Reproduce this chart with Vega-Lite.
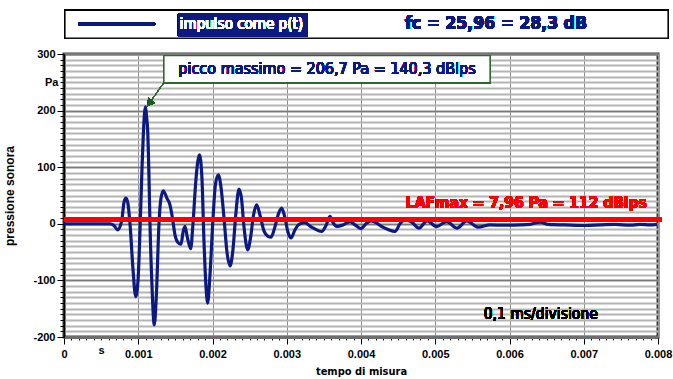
{
  "$schema": "https://vega.github.io/schema/vega-lite/v6.json",
  "autosize": "none",
  "width": 594,
  "height": 283,
  "padding": {"left": 64, "top": 54, "right": 15, "bottom": 42},
  "background": "white",
  "config": {
    "view": {"stroke": "#3a3a3a", "strokeWidth": 3},
    "font": "Liberation Sans"
  },
  "resolve": {"axis": {"x": "independent", "y": "independent"}},
  "data": {
    "values": [
      {"t":0,"p":0},{"t":0.000485,"p":0},{"t":0.00062,"p":0},{"t":0.000673,"p":-3},{"t":0.000723,"p":-10.6},{"t":0.000777,"p":5},{"t":0.000808,"p":38},{"t":0.000835,"p":45.5},{"t":0.000862,"p":35},{"t":0.000889,"p":0},{"t":0.000929,"p":-80},{"t":0.000966,"p":-128.7},{"t":0.000997,"p":-100},{"t":0.001024,"p":-10},{"t":0.001051,"p":100},{"t":0.001068,"p":157},{"t":0.001084,"p":195},{"t":0.001098,"p":206.7},{"t":0.001111,"p":190},{"t":0.001127,"p":165},{"t":0.001145,"p":80},{"t":0.001158,"p":0},{"t":0.001185,"p":-110},{"t":0.001216,"p":-178.8},{"t":0.001246,"p":-120},{"t":0.001279,"p":0},{"t":0.001306,"p":45},{"t":0.001337,"p":58.4},{"t":0.001387,"p":45},{"t":0.001427,"p":33.6},{"t":0.001461,"p":10},{"t":0.001495,"p":-19.5},{"t":0.001535,"p":-33},{"t":0.001576,"p":-36},{"t":0.001603,"p":-15},{"t":0.001629,"p":-4.7},{"t":0.001663,"p":-25},{"t":0.001706,"p":-44},{"t":0.001737,"p":0},{"t":0.001778,"p":80},{"t":0.001825,"p":122},{"t":0.001858,"p":80},{"t":0.001885,"p":-30},{"t":0.001912,"p":-110},{"t":0.001935,"p":-140},{"t":0.001966,"p":-90},{"t":0.002007,"p":10},{"t":0.00204,"p":70},{"t":0.002078,"p":86.7},{"t":0.002114,"p":65},{"t":0.002155,"p":10},{"t":0.002195,"p":-50},{"t":0.002236,"p":-74.3},{"t":0.002276,"p":-45},{"t":0.002316,"p":20},{"t":0.002357,"p":61.4},{"t":0.00239,"p":45},{"t":0.002424,"p":-5},{"t":0.002474,"p":-46},{"t":0.002512,"p":-25},{"t":0.002552,"p":15},{"t":0.002595,"p":33.6},{"t":0.00264,"p":15},{"t":0.002694,"p":-13},{"t":0.002747,"p":-22},{"t":0.002788,"p":-23.6},{"t":0.002842,"p":-5},{"t":0.002889,"p":18},{"t":0.002932,"p":27.7},{"t":0.002977,"p":10},{"t":0.003017,"p":-15},{"t":0.003057,"p":-25},{"t":0.003111,"p":-10.6},{"t":0.003165,"p":-1},{"t":0.003246,"p":2},{"t":0.003313,"p":-4},{"t":0.003367,"p":-8},{"t":0.003468,"p":-13.6},{"t":0.003529,"p":-3},{"t":0.003582,"p":13},{"t":0.003623,"p":2},{"t":0.003677,"p":-4.7},{"t":0.003758,"p":-2},{"t":0.003852,"p":4},{"t":0.003919,"p":-2},{"t":0.004,"p":-8.5},{"t":0.004067,"p":0},{"t":0.004135,"p":5},{"t":0.004202,"p":2},{"t":0.004269,"p":-4},{"t":0.004364,"p":-10},{"t":0.004458,"p":-13.6},{"t":0.004525,"p":0},{"t":0.004592,"p":7},{"t":0.004673,"p":4},{"t":0.004781,"p":-7.7},{"t":0.004889,"p":5},{"t":0.00502,"p":-5},{"t":0.005154,"p":4},{"t":0.005293,"p":-7.7},{"t":0.005423,"p":5},{"t":0.005576,"p":-6},{"t":0.005737,"p":-2},{"t":0.005939,"p":-2.5},{"t":0.006141,"p":-2},{"t":0.006276,"p":-1},{"t":0.006411,"p":3},{"t":0.006519,"p":-1},{"t":0.006747,"p":-2},{"t":0.007017,"p":-3},{"t":0.007219,"p":-2},{"t":0.007421,"p":-1},{"t":0.007623,"p":-2.5},{"t":0.007758,"p":-1},{"t":0.007892,"p":-2},{"t":0.007987,"p":-1}
    ]
  },
  "layer": [
    {
      "mark": {"type": "line", "color": "#0c1a80", "strokeWidth": 3.2, "interpolate": "monotone"},
      "encoding": {
        "x": {
          "field": "t", "type": "quantitative",
          "scale": {"domain": [0, 0.008], "nice": false, "zero": false},
          "axis": {
            "orient": "bottom",
            "title": "tempo di misura",
            "titleFont": "Liberation Sans Narrow, DejaVu Sans Condensed, Liberation Sans",
            "titleFontSize": 11, "titleFontWeight": "bold", "titleColor": "black", "titlePadding": 6,
            "values": [0,0.0001,0.0002,0.0003,0.0004,0.0005,0.0006,0.0007,0.0008,0.0009,0.001,0.0011,0.0012,0.0013,0.0014,0.0015,0.0016,0.0017,0.0018,0.0019,0.002,0.0021,0.0022,0.0023,0.0024,0.0025,0.0026,0.0027,0.0028,0.0029,0.003,0.0031,0.0032,0.0033,0.0034,0.0035,0.0036,0.0037,0.0038,0.0039,0.004,0.0041,0.0042,0.0043,0.0044,0.0045,0.0046,0.0047,0.0048,0.0049,0.005,0.0051,0.0052,0.0053,0.0054,0.0055,0.0056,0.0057,0.0058,0.0059,0.006,0.0061,0.0062,0.0063,0.0064,0.0065,0.0066,0.0067,0.0068,0.0069,0.007,0.0071,0.0072,0.0073,0.0074,0.0075,0.0076,0.0077,0.0078,0.0079,0.008],
            "labelExpr": "datum.value == 0 ? '0' : (abs(datum.value - 0.0005) < 1e-9 ? 's' : (abs(datum.value*1000 - round(datum.value*1000)) < 1e-6 ? format(datum.value, '.3f') : ''))",
            "labelOverlap": false, "labelFlush": false,
            "labelFontSize": 11, "labelFontWeight": "bold", "labelColor": "black", "labelPadding": 4,
            "grid": true,
            "gridColor": "#8c8c8c",
            "gridOpacity": {"condition": {"test": "abs(datum.value*1000 - round(datum.value*1000)) < 1e-6", "value": 1}, "value": 0},
            "tickColor": "black",
            "tickSize": {"condition": {"test": "abs(datum.value*1000 - round(datum.value*1000)) < 1e-6", "value": 7}, "value": 3},
            "domainColor": "#6e6e6e", "domainWidth": 3
          }
        },
        "y": {
          "field": "p", "type": "quantitative",
          "scale": {"domain": [-200, 300], "nice": false, "zero": false},
          "axis": {
            "orient": "left",
            "title": "pressione sonora",
            "titleFontSize": 12, "titleFontWeight": "bold", "titleColor": "black", "titlePadding": 16,
            "values": [-200,-190,-180,-170,-160,-150,-140,-130,-120,-110,-100,-90,-80,-70,-60,-50,-40,-30,-20,-10,0,10,20,30,40,50,60,70,80,90,100,110,120,130,140,150,160,170,180,190,200,210,220,230,240,250,260,270,280,290,300],
            "labelExpr": "datum.value == 250 ? 'Pa' : (datum.value % 100 == 0 ? '' + datum.value : '')",
            "labelOverlap": false, "labelFlush": false,
            "labelFontSize": 11, "labelFontWeight": "bold", "labelColor": "black", "labelPadding": 2,
            "grid": true,
            "gridColor": "#b4b4b4",
            "gridWidth": 2,
            "tickColor": "black",
            "tickSize": {"condition": {"test": "datum.value % 100 == 0", "value": 7}, "value": 4},
            "domainColor": "black", "domainWidth": 1.5
          }
        }
      }
    },
    {
      "mark": {"type": "rule", "color": "#ff0000", "strokeWidth": 4},
      "encoding": {
        "x": {"datum": 0, "type": "quantitative", "axis": null},
        "x2": {"datum": 0.00805},
        "y": {
          "datum": 7.96, "type": "quantitative",
          "axis": {
            "orient": "left", "values": [-200, -100, 0, 100, 200, 300],
            "grid": true, "gridColor": "#7a7a7a", "gridWidth": 1.5,
            "labels": false, "ticks": false, "domain": false, "title": null
          }
        }
      }
    },
    {
      "mark": {"type": "text", "text": "LAFmax = 7,96 Pa = 112 dBlps", "color": "#ff0000", "font": "DejaVu Sans Condensed, DejaVu Sans", "fontSize": 15.5, "fontWeight": "bold", "align": "right", "baseline": "middle"},
      "encoding": {
        "x": {"datum": 0.00785, "type": "quantitative", "axis": null},
        "y": {"datum": 37, "type": "quantitative", "axis": null}
      }
    },
    {
      "mark": {"type": "text", "text": "0,1 ms/divisione", "color": "black", "font": "DejaVu Sans Condensed, DejaVu Sans", "fontSize": 15.5, "align": "center", "baseline": "middle"},
      "encoding": {
        "x": {"datum": 0.00642, "type": "quantitative", "axis": null},
        "y": {"datum": -159, "type": "quantitative", "axis": null}
      }
    },
    {
      "mark": {"type": "rule", "color": "#2f6a2f", "strokeWidth": 1},
      "encoding": {
        "x": {"datum": 0.001347, "type": "quantitative", "axis": null},
        "x2": {"datum": 0.00115},
        "y": {"datum": 249.6, "type": "quantitative", "axis": null},
        "y2": {"datum": 213}
      }
    },
    {
      "mark": {"type": "point", "shape": "triangle-up", "filled": true, "color": "#1f5a1f", "size": 70, "angle": 216, "opacity": 1},
      "encoding": {
        "x": {"datum": 0.001152, "type": "quantitative", "axis": null},
        "y": {"datum": 213, "type": "quantitative", "axis": null}
      }
    },
    {
      "mark": {"type": "rect", "fill": "white", "stroke": "#2f6a2f", "strokeWidth": 1.2},
      "encoding": {
        "x": {"datum": 0.001347, "type": "quantitative", "axis": null},
        "x2": {"datum": 0.005737},
        "y": {"datum": 297.3, "type": "quantitative", "axis": null},
        "y2": {"datum": 249.6}
      }
    },
    {
      "mark": {"type": "text", "text": "picco massimo = 206,7 Pa = 140,3 dBlps", "color": "#0c1a80", "font": "DejaVu Sans Condensed, DejaVu Sans", "fontSize": 16, "align": "center", "baseline": "middle"},
      "encoding": {
        "x": {"datum": 0.003542, "type": "quantitative", "axis": null},
        "y": {"datum": 273.5, "type": "quantitative", "axis": null}
      }
    },
    {
      "mark": {"type": "rect", "fill": "white", "stroke": "black", "strokeWidth": 1.2},
      "encoding": {
        "x": {"datum": 0.0000135, "type": "quantitative", "axis": null},
        "x2": {"datum": 0.008135},
        "y": {"datum": 377, "type": "quantitative", "axis": null},
        "y2": {"datum": 328}
      }
    },
    {
      "mark": {"type": "rule", "color": "#0c1a80", "strokeWidth": 3},
      "encoding": {
        "x": {"datum": 0.00019, "type": "quantitative", "axis": null},
        "x2": {"datum": 0.001226},
        "y": {"datum": 352.5, "type": "quantitative", "axis": null}
      }
    },
    {
      "mark": {"type": "rect", "fill": "#0c1a80"},
      "encoding": {
        "x": {"datum": 0.001535, "type": "quantitative", "axis": null},
        "x2": {"datum": 0.003286},
        "y": {"datum": 372, "type": "quantitative", "axis": null},
        "y2": {"datum": 331.5}
      }
    },
    {
      "mark": {"type": "text", "text": "impulso come p(t)", "color": "white", "font": "DejaVu Sans Condensed, DejaVu Sans", "fontSize": 15, "align": "left", "baseline": "middle"},
      "encoding": {
        "x": {"datum": 0.00156, "type": "quantitative", "axis": null},
        "y": {"datum": 352.5, "type": "quantitative", "axis": null}
      }
    },
    {
      "mark": {"type": "text", "text": "fc = 25,96 = 28,3 dB", "color": "#0c1a80", "font": "DejaVu Sans Condensed, DejaVu Sans", "fontSize": 17.5, "fontWeight": "bold", "align": "left", "baseline": "middle"},
      "encoding": {
        "x": {"datum": 0.004593, "type": "quantitative", "axis": null},
        "y": {"datum": 352.5, "type": "quantitative", "axis": null}
      }
    }
  ]
}
